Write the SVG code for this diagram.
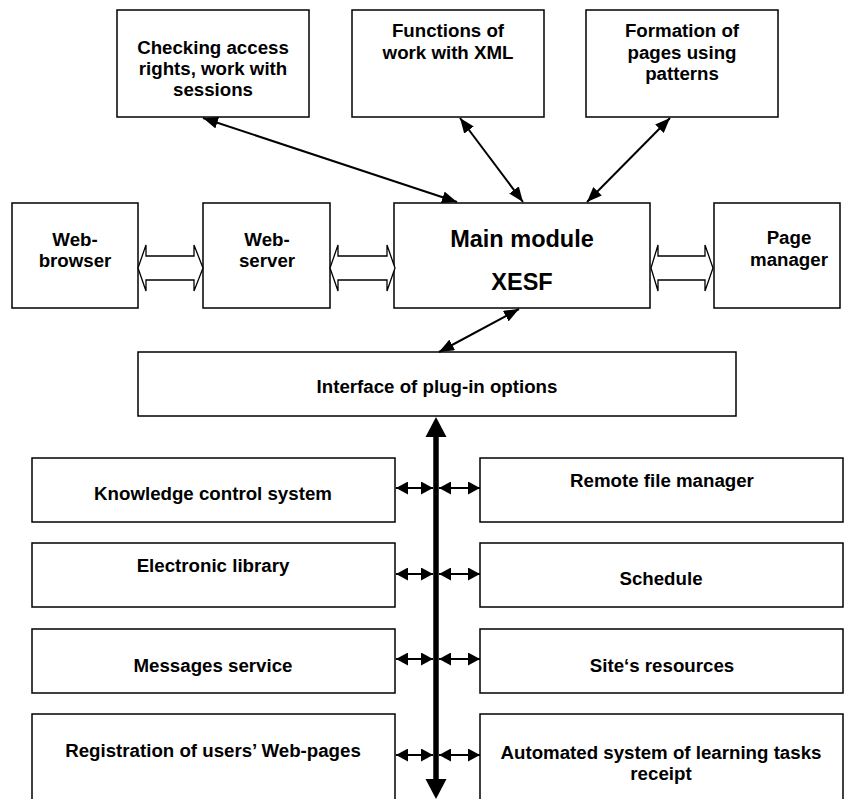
<svg xmlns="http://www.w3.org/2000/svg" width="853" height="799" viewBox="0 0 853 799">
<style>
.box{fill:#fff;stroke:#000;stroke-width:1.5}
.t{font-family:"Liberation Sans",Arial,sans-serif;font-weight:bold;font-size:18.7px;fill:#000;text-anchor:middle}
.big{font-size:23.5px}
.ln{stroke:#000;stroke-width:2;fill:none}
.hol{fill:#fff;stroke:#000;stroke-width:1.3;stroke-linejoin:miter}
</style>
<defs>
<marker id="ah" viewBox="0 0 15 12" refX="15" refY="6" markerWidth="15" markerHeight="12" markerUnits="userSpaceOnUse" orient="auto-start-reverse"><path d="M0,0 L15,6 L0,12 z" fill="#000"/></marker>
<marker id="sh" viewBox="0 0 12 13" refX="12" refY="6.5" markerWidth="12" markerHeight="13" markerUnits="userSpaceOnUse" orient="auto-start-reverse"><path d="M0,0 L12,6.5 L0,13 z" fill="#000"/></marker>
</defs>

<g id="checking"><rect class="box" x="117" y="10" width="192" height="107"/>
<text class="t" x="213" y="54">Checking access</text><text class="t" x="213" y="75">rights, work with</text><text class="t" x="213" y="96">sessions</text></g>
<g id="functions"><rect class="box" x="352" y="10" width="192" height="107"/>
<text class="t" x="448" y="37">Functions of</text><text class="t" x="448" y="59">work with XML</text></g>
<g id="formation"><rect class="box" x="586" y="10" width="192" height="107"/>
<text class="t" x="682" y="37">Formation of</text><text class="t" x="682" y="59">pages using</text><text class="t" x="682" y="80">patterns</text></g>

<g id="browser"><rect class="box" x="12" y="203" width="126" height="105"/>
<text class="t" x="75" y="246">Web-</text><text class="t" x="75" y="267">browser</text></g>
<g id="server"><rect class="box" x="203" y="203" width="127" height="105"/>
<text class="t" x="267" y="246">Web-</text><text class="t" x="267" y="267">server</text></g>
<g id="main"><rect class="box" x="394" y="203" width="256" height="105"/>
<text class="t big" x="522" y="247">Main module</text><text class="t big" x="522" y="290">XESF</text></g>
<g id="pagemanager"><rect class="box" x="714" y="203" width="126" height="105"/>
<text class="t" x="789" y="244">Page</text><text class="t" x="789" y="266">manager</text></g>

<g id="interface"><rect class="box" x="138" y="352" width="598" height="64"/>
<text class="t" x="437" y="393">Interface of plug-in options</text></g>

<g id="knowledge"><rect class="box" x="32" y="458" width="363" height="64"/><text class="t" x="213" y="500">Knowledge control system</text></g>
<g id="remote"><rect class="box" x="480" y="458" width="363" height="64"/><text class="t" x="662" y="487">Remote file manager</text></g>
<g id="library"><rect class="box" x="32" y="543" width="363" height="64"/><text class="t" x="213" y="572">Electronic library</text></g>
<g id="schedule"><rect class="box" x="480" y="543" width="363" height="64"/><text class="t" x="661" y="585">Schedule</text></g>
<g id="messages"><rect class="box" x="32" y="629" width="363" height="64"/><text class="t" x="213" y="672">Messages service</text></g>
<g id="resources"><rect class="box" x="480" y="629" width="363" height="64"/><text class="t" x="662" y="672">Site‘s resources</text></g>
<g id="registration"><rect class="box" x="32" y="714" width="363" height="100"/><text class="t" x="213" y="757">Registration of users’ Web-pages</text></g>
<g id="automated"><rect class="box" x="480" y="714" width="363" height="100"/><text class="t" x="661" y="759">Automated system of learning tasks</text><text class="t" x="661" y="780">receipt</text></g>

<g id="connectors">
<line class="ln" x1="203" y1="118" x2="457" y2="202" marker-start="url(#ah)" marker-end="url(#ah)"/>
<line class="ln" x1="460" y1="118" x2="523" y2="202" marker-start="url(#ah)" marker-end="url(#ah)"/>
<line class="ln" x1="670" y1="118" x2="587" y2="202" marker-start="url(#ah)" marker-end="url(#ah)"/>
<line class="ln" x1="519" y1="309" x2="439" y2="352" marker-start="url(#ah)" marker-end="url(#ah)"/>
<polygon class="hol" points="138,268 146,245 146,256 194,256 194,245 203,268 194,291 194,280 146,280 146,291"/>
<polygon class="hol" points="330,268 338,245 338,256 387,256 387,245 395,268 387,291 387,280 338,280 338,291"/>
<polygon class="hol" points="651,268 658,245 658,256 705,256 705,245 713,268 705,291 705,280 658,280 658,291"/>
<line x1="436" y1="434" x2="436" y2="782" stroke="#000" stroke-width="5.5"/>
<polygon points="436,417 425.5,437 446.5,437" fill="#000"/>
<polygon points="436,799 425.5,779 446.5,779" fill="#000"/>
<line class="ln" x1="396" y1="488" x2="433" y2="488" marker-start="url(#sh)" marker-end="url(#sh)"/>
<line class="ln" x1="439" y1="488" x2="480" y2="488" marker-start="url(#sh)" marker-end="url(#sh)"/>
<line class="ln" x1="396" y1="574" x2="433" y2="574" marker-start="url(#sh)" marker-end="url(#sh)"/>
<line class="ln" x1="439" y1="574" x2="480" y2="574" marker-start="url(#sh)" marker-end="url(#sh)"/>
<line class="ln" x1="396" y1="659" x2="433" y2="659" marker-start="url(#sh)" marker-end="url(#sh)"/>
<line class="ln" x1="439" y1="659" x2="480" y2="659" marker-start="url(#sh)" marker-end="url(#sh)"/>
<line class="ln" x1="396" y1="755" x2="433" y2="755" marker-start="url(#sh)" marker-end="url(#sh)"/>
<line class="ln" x1="439" y1="755" x2="480" y2="755" marker-start="url(#sh)" marker-end="url(#sh)"/>
</g>
</svg>
